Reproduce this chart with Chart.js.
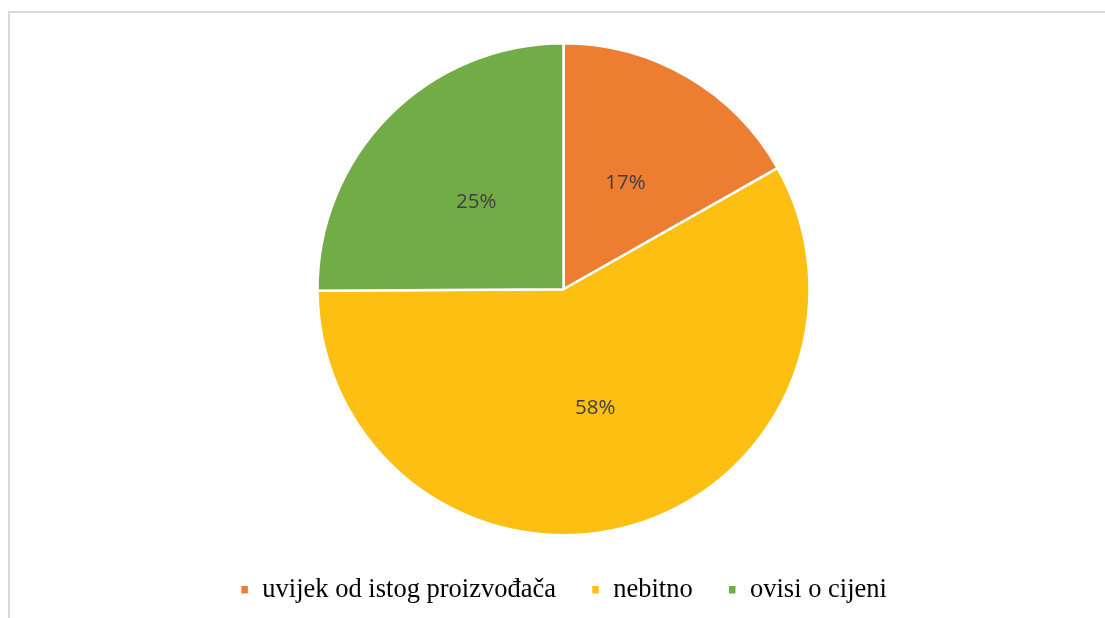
<!DOCTYPE html>
<html>
<head>
<meta charset="utf-8">
<script src="https://cdn.jsdelivr.net/npm/chart.js@4.4.1/dist/chart.umd.min.js"></script>
<style>
  html, body { margin: 0; padding: 0; background: #ffffff; width: 1105px; height: 618px; overflow: hidden; }
  #frame { position: absolute; left: 8px; top: 11px; width: 1120px; height: 640px; border: 2px solid #d9d9d9; box-sizing: border-box; pointer-events: none; }
  #wrap { position: absolute; left: 0; top: 0; width: 1105px; height: 618px; }
</style>
</head>
<body>
<div id="wrap"><canvas id="c" width="1105" height="618"></canvas></div>
<div id="frame"></div>
<script>
const categories = ['uvijek od istog proizvođača', 'nebitno', 'ovisi o cijeni'];
const values = [16.8, 58.1, 25.1];
const colors = ['#ED7D31', '#FCBF12', '#72AC46'];

const sliceLabels = {
  id: 'sliceLabels',
  afterDatasetsDraw(chart) {
    const ctx = chart.ctx;
    const meta = chart.getDatasetMeta(0);
    const data = chart.data.datasets[0].data;
    const total = data.reduce((a, b) => a + b, 0);
    ctx.save();
    ctx.font = '20.5px "Open Sans", "Liberation Sans", sans-serif';
    ctx.fillStyle = '#404040';
    ctx.textAlign = 'center';
    ctx.textBaseline = 'middle';
    meta.data.forEach((arc, i) => {
      const p = arc.getCenterPoint();
      ctx.fillText(Math.round(data[i] / total * 100) + '%', p.x, p.y);
    });
    ctx.restore();
  }
};

new Chart(document.getElementById('c'), {
  type: 'pie',
  data: {
    labels: categories,
    datasets: [{
      data: values,
      backgroundColor: colors,
      borderColor: '#ffffff',
      borderWidth: 2.5
    }]
  },
  options: {
    responsive: false,
    animation: false,
    radius: 246,
    layout: { padding: { left: 22, right: 0, top: 37, bottom: 5 } },
    plugins: {
      tooltip: { enabled: false },
      legend: {
        position: 'bottom',
        labels: {
          boxWidth: 9,
          boxHeight: 10,
          padding: 35,
          color: '#000000',
          font: { family: '"Liberation Serif", "Times New Roman", serif', size: 26.5 }
        }
      }
    }
  },
  plugins: [sliceLabels]
});
</script>
</body>
</html>
